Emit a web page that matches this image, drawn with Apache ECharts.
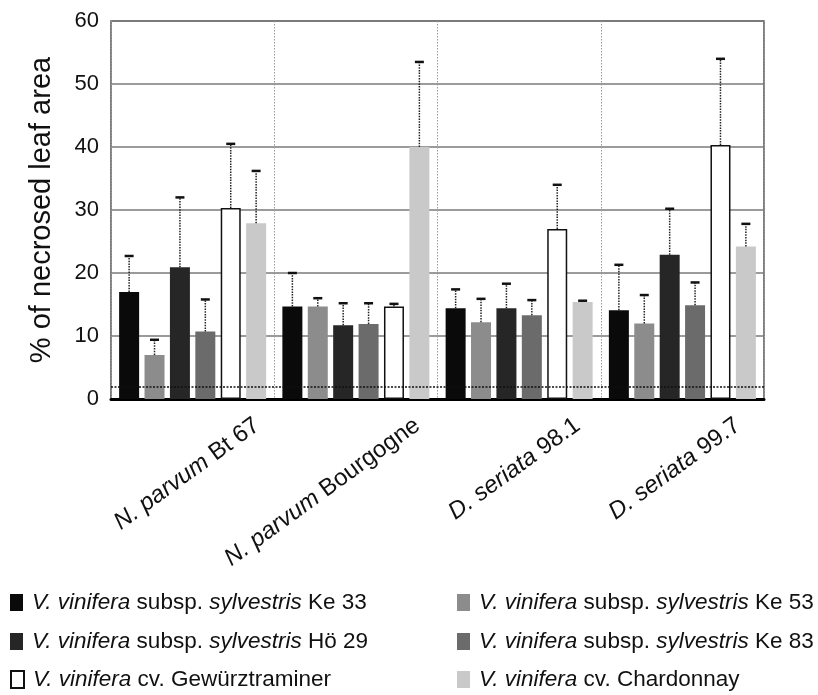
<!DOCTYPE html>
<html>
<head>
<meta charset="utf-8">
<script src="https://cdn.jsdelivr.net/npm/echarts@6/dist/echarts.min.js"></script>
<style>
  html, body { margin: 0; padding: 0; background: #fff; }
  #chart { width: 818px; height: 695px; }
</style>
</head>
<body>
<div id="chart"></div>
<script>
// categories (pathogen strains)
const categories = ['N. parvum Bt 67', 'N. parvum Bourgogne', 'D. seriata 98.1', 'D. seriata 99.7']

// grapevine varieties, in bar order
const varieties = [
  'V. vinifera subsp. sylvestris Ke 33',
  'V. vinifera subsp. sylvestris Ke 53',
  'V. vinifera subsp. sylvestris Hö 29',
  'V. vinifera subsp. sylvestris Ke 83',
  'V. vinifera cv. Gewürztraminer',
  'V. vinifera cv. Chardonnay'
]

// mean % of necrosed leaf area
const ke33 = [17.0, 14.7, 14.4, 14.1]
const ke53 = [7.0, 14.7, 12.2, 12.0]
const ho29 = [20.9, 11.7, 14.4, 22.9]
const ke83 = [10.7, 11.9, 13.3, 14.9]
const gewurz = [30.3, 14.7, 27.0, 40.3]
const chardonnay = [27.9, 40.0, 15.4, 24.2]

// standard deviations (upper error bars)
const ke33Sd = [5.7, 5.3, 3.0, 7.2]
const ke53Sd = [2.4, 1.3, 3.7, 4.5]
const ho29Sd = [11.1, 3.5, 3.9, 7.3]
const ke83Sd = [5.1, 3.3, 2.4, 3.6]
const gewurzSd = [10.2, 0.4, 7.0, 13.7]
const chardonnaySd = [8.3, 13.5, 0.2, 3.6]

// dotted reference line
const thresholdLine = [2]

const yTicks = { min: 0, max: 60, interval: 10 }

const means = [ke33, ke53, ho29, ke83, gewurz, chardonnay]
const sds = [ke33Sd, ke53Sd, ho29Sd, ke83Sd, gewurzSd, chardonnaySd]
const colors = ['#0a0a0a', '#8c8c8c', '#262626', '#6b6b6b', '#ffffff', '#c9c9c9']

const FONT = "'Liberation Sans', Arial, sans-serif"
const BAR_WIDTH = 20
const BAR_GAP = 0.27

const chart = echarts.init(document.getElementById('chart'), null, { renderer: 'canvas' })

const italicize = (s) => s
  .replace('V. vinifera', '{i|V. vinifera}')
  .replace('sylvestris', '{i|sylvestris}')

const legendText = {
  fontFamily: FONT,
  fontSize: 22.5,
  color: '#111',
  padding: [0, 0, 0, 4],
  rich: {
    i: { fontFamily: FONT, fontSize: 22.5, fontStyle: 'italic', color: '#111' }
  }
}

// one legend per entry: two columns, three rows
const legendCols = [10, 457]
const legendRows = [591, 630, 668]

const legends = varieties.map((name, k) => ({
  data: [name],
  left: legendCols[k % 2],
  top: legendRows[Math.floor(k / 2)],
  padding: 0,
  itemWidth: 13,
  itemHeight: 17,
  icon: 'rect',
  selectedMode: false,
  formatter: italicize,
  textStyle: legendText
}))

const barSeries = varieties.map((name, k) => ({
  name: name,
  type: 'bar',
  data: means[k],
  barWidth: BAR_WIDTH,
  barGap: (BAR_GAP * 100) + '%',
  itemStyle: k === 4
    ? { color: colors[k], borderColor: '#111', borderWidth: 1.5 }
    : { color: colors[k] },
  z: 2
}))

// dotted line at 2 %
barSeries[0].markLine = {
  silent: true,
  symbol: 'none',
  label: { show: false },
  lineStyle: { type: [2, 1.5], color: '#111', width: 1.5 },
  data: [{ yAxis: thresholdLine[0] }]
}

// error bar data: [category index, bar slot, mean, mean + sd]
const errorData = []
means.forEach((vals, k) => {
  vals.forEach((v, c) => {
    errorData.push([c, k, v, v + sds[k][c]])
  })
})

const errorSeries = {
  type: 'custom',
  name: 'sd',
  data: errorData,
  encode: { x: 0, y: [2, 3] },
  z: 5,
  silent: true,
  renderItem(params, api) {
    const pitch = BAR_WIDTH * (1 + BAR_GAP)
    const base = api.coord([api.value(0), api.value(2)])
    const top = api.coord([api.value(0), api.value(3)])
    const x = base[0] + (api.value(1) - 2.5) * pitch
    return {
      type: 'group',
      children: [
        {
          type: 'line',
          shape: { x1: x, y1: base[1], x2: x, y2: top[1] },
          style: { stroke: '#222', lineWidth: 1.5, lineDash: [1.5, 1.2] }
        },
        {
          type: 'line',
          shape: { x1: x - 4.5, y1: top[1], x2: x + 4.5, y2: top[1] },
          style: { stroke: '#111', lineWidth: 2.5 }
        }
      ]
    }
  }
}

const option = {
  animation: false,
  backgroundColor: '#fff',
  grid: [
    { left: 111, right: 54, top: 21, bottom: 296, show: true, borderColor: '#555', borderWidth: 1.5 },
    // second grid only carries the slanted category labels, shifted right
    { left: 177, width: 653, top: 21, bottom: 296, show: false }
  ],
  legend: legends,
  xAxis: [
    {
      type: 'category',
      gridIndex: 0,
      data: categories,
      axisLine: { show: true, lineStyle: { color: '#000', width: 3 } },
      axisTick: { show: false },
      axisLabel: { show: false },
      splitLine: { show: true, lineStyle: { color: '#999', width: 1, type: [1.5, 1.5] } }
    },
    {
      type: 'category',
      gridIndex: 1,
      data: categories,
      axisLine: { show: false },
      axisTick: { show: false },
      splitLine: { show: false },
      axisLabel: {
        interval: 0,
        rotate: 36,
        margin: 24,
        fontFamily: FONT,
        fontSize: 24,
        color: '#111',
        formatter: (v) => v.replace(/^(N\. parvum|D\. seriata)/, '{i|$1}'),
        rich: {
          i: { fontFamily: FONT, fontSize: 24, fontStyle: 'italic', color: '#111' }
        }
      }
    }
  ],
  yAxis: [
    {
      type: 'value',
      gridIndex: 0,
      min: yTicks.min,
      max: yTicks.max,
      interval: yTicks.interval,
      name: '% of necrosed leaf area',
      nameLocation: 'middle',
      nameGap: 55,
      nameTextStyle: { fontFamily: FONT, fontSize: 29, color: '#111' },
      axisLine: { show: false },
      axisTick: { show: false },
      axisLabel: { fontFamily: FONT, fontSize: 22, color: '#111', margin: 12 },
      splitLine: { show: true, lineStyle: { color: '#7a7a7a', width: 1.5 } }
    },
    { type: 'value', gridIndex: 1, show: false, min: 0, max: 60 }
  ],
  series: barSeries.concat([errorSeries])
}

chart.setOption(option)
</script>
</body>
</html>
